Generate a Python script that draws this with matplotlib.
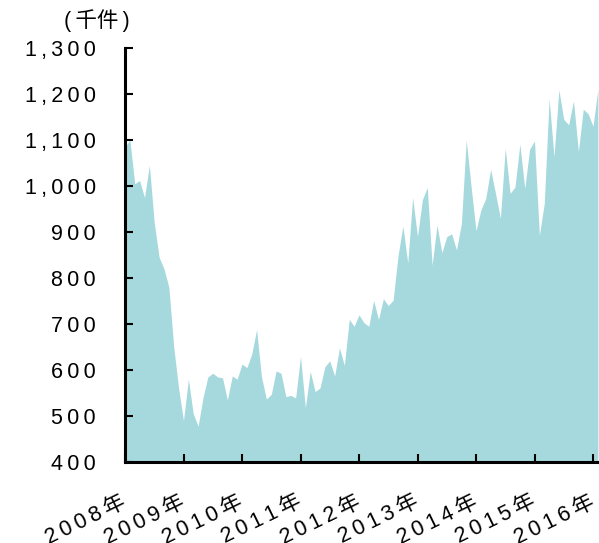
import matplotlib
matplotlib.use("Agg")
import matplotlib.pyplot as plt
from matplotlib.ticker import FuncFormatter

plt.rcParams['font.family'] = ['Liberation Sans', 'Noto Sans CJK JP', 'DejaVu Sans']

# Monthly values (thousand units), Jan 2008 - Feb 2016
values = [
    1085, 1100, 1005, 1012, 975, 1045, 920, 845, 820, 780, 650, 560,   # 2008
    490, 580, 505, 478, 540, 585, 593, 585, 583, 535, 587, 580,        # 2009
    613, 605, 635, 688, 585, 537, 547, 598, 593, 542, 545, 539,        # 2010
    630, 518, 597, 553, 561, 607, 620, 587, 648, 610, 710, 695,        # 2011
    720, 703, 695, 751, 710, 755, 740, 752, 848, 913, 833, 975,        # 2012
    890, 970, 997, 828, 915, 855, 890, 896, 861, 918, 1100, 998,       # 2013
    903, 948, 973, 1036, 984, 930, 1082, 984, 998, 1091, 995, 1080,    # 2014
    1098, 893, 962, 1190, 1064, 1209, 1145, 1133, 1185, 1075, 1167, 1157,  # 2015
    1130, 1210,                                                        # 2016
]
years = ['2008年', '2009年', '2010年', '2011年', '2012年', '2013年', '2014年', '2015年', '2016年']
yticks = [400, 500, 600, 700, 800, 900, 1000, 1100, 1200, 1300]
unit_label = '(千件)'

SP = '\u2009'  # thin space to mimic the wide letter spacing of the original


def spaced(s):
    return SP.join(s)


W, H = 599, 543
fig = plt.figure(figsize=(W / 100, H / 100), dpi=100)
left_px, right_px, bottom_px, top_px = 125, 599, 462, 48
ax = fig.add_axes([left_px / W, 1 - bottom_px / H, (right_px - left_px) / W, (bottom_px - top_px) / H])

x = list(range(len(values)))
ax.fill_between(x, 400, values, color='#a6d9dd', linewidth=0)

ax.set_ylim(400, 1300)
px_per_month = 58.5 / 12
ax.set_xlim(0, (right_px - left_px) / px_per_month)

ax.set_yticks(yticks)
ax.yaxis.set_major_formatter(FuncFormatter(lambda v, p: spaced(f'{int(v):,}')))
ax.set_xticks([12 * i for i in range(len(years))])
ax.set_xticklabels([spaced(y) for y in years], rotation=26, ha='right',
                   rotation_mode='anchor', va='center')

for s in ['top', 'right']:
    ax.spines[s].set_visible(False)
for s in ['left', 'bottom']:
    ax.spines[s].set_linewidth(2.2)
    ax.spines[s].set_color('black')

ax.tick_params(axis='y', direction='in', length=6, width=1.5, labelsize=15.5, pad=21)
ax.tick_params(axis='x', direction='in', length=6, width=1.5, labelsize=15.5, pad=28)

fig.text(97 / W, 1 - 21 / H, '(' + SP + unit_label[1:-1] + SP + ')', ha='center', va='center', fontsize=15.5)

fig.savefig('out.png', dpi=100)
